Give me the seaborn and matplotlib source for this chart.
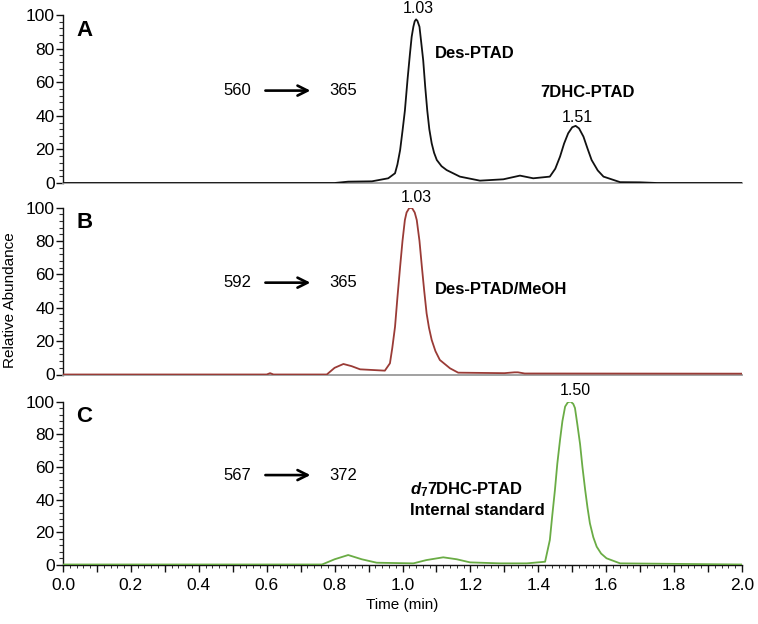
import numpy as np
import pandas as pd
import matplotlib
matplotlib.use("Agg")
import matplotlib.pyplot as plt
import matplotlib.ticker as mticker
import seaborn as sns

# ---------------- data ----------------
time_A = [0.0, 0.80, 0.84, 0.91, 0.958, 0.978, 0.985, 0.993, 1.000, 1.007, 1.015, 1.022,
          1.027, 1.032, 1.036, 1.040, 1.044, 1.050, 1.055, 1.061, 1.067, 1.073, 1.079,
          1.086, 1.093, 1.101, 1.115, 1.130, 1.169, 1.228, 1.297, 1.346, 1.385, 1.434,
          1.450, 1.464, 1.476, 1.488, 1.500, 1.510, 1.520, 1.533, 1.545, 1.557, 1.575,
          1.592, 1.641, 1.70, 1.75, 2.0]
abund_A = [0, 0, 0.8, 1.0, 2.8, 5.8, 11, 19.6, 31, 43, 62, 77,
           87, 93, 96.3, 97.4, 96.5, 93, 84, 73, 57, 43, 32,
           23.6, 18, 13.7, 10, 7.7, 3.8, 1.4, 2.2, 4.4, 2.8, 3.8,
           8.5, 15.7, 23.5, 29.6, 33.2, 34, 32.5, 27.6, 20.5, 13.7, 7.5,
           3.8, 0.5, 0.4, 0, 0]

time_B = [0.0, 0.60, 0.61, 0.62, 0.777, 0.80, 0.826, 0.85, 0.875, 0.948, 0.963, 0.970,
          0.978, 0.985, 0.993, 1.000, 1.007, 1.012, 1.020, 1.028, 1.036, 1.042, 1.050,
          1.057, 1.064, 1.071, 1.078, 1.086, 1.097, 1.110, 1.140, 1.164, 1.30, 1.33,
          1.34, 1.36, 2.0]
abund_B = [0, 0, 0.8, 0, 0, 4, 6.3, 5, 3.1, 2.3, 6.7, 16,
           28.6, 46, 64.6, 80, 92.5, 97, 99.7, 99.7, 97, 92.5, 80,
           64.6, 50, 36.6, 28, 20.7, 14, 8.7, 3.7, 1.1, 0.8, 1.3,
           1.3, 0.6, 0.5]

time_C = [0.0, 0.763, 0.80, 0.840, 0.88, 0.924, 1.032, 1.07, 1.120, 1.16, 1.199, 1.287,
          1.366, 1.420, 1.434, 1.441, 1.449, 1.456, 1.464, 1.471, 1.479, 1.487, 1.495,
          1.503, 1.508, 1.515, 1.523, 1.530, 1.538, 1.545, 1.552, 1.562, 1.572, 1.585,
          1.601, 1.641, 2.0]
abund_C = [0.3, 0.3, 3.5, 6.1, 3.5, 1.4, 1.0, 3.0, 4.7, 3.5, 1.6, 1.0,
           1.0, 2.0, 15.3, 30, 45.9, 62, 76.5, 88, 96.9, 99.5, 100,
           98.5, 96, 86, 74, 60, 46, 35, 25.5, 17, 11.2, 7,
           4.1, 1.0, 0.3]

panel_letters = ["A", "B", "C"]
transitions = [("560", "365"), ("592", "365"), ("567", "372")]
peak_labels = [[("1.03", 1.046, 104.0), ("1.51", 1.514, 38.7)],
               [("1.03", 1.040, 106.0)],
               [("1.50", 1.508, 106.5)]]
y_ticks = [0, 20, 40, 60, 80, 100]
x_ticks_labels = ["0.0", "0.2", "0.4", "0.6", "0.8", "1.0", "1.2", "1.4", "1.6", "1.8", "2.0"]
colors = ["#111111", "#9a3b36", "#6aac45"]

# ---------------- style ----------------
sns.set_style("ticks")
plt.rcParams["font.family"] = ["Liberation Sans", "DejaVu Sans"]
plt.rcParams["mathtext.fontset"] = "custom"
plt.rcParams["mathtext.it"] = "Liberation Sans:italic:bold"
plt.rcParams["mathtext.rm"] = "Liberation Sans:bold"
plt.rcParams["mathtext.bf"] = "Liberation Sans:bold"
plt.rcParams["text.color"] = "black"
plt.rcParams["axes.labelcolor"] = "black"
plt.rcParams["xtick.color"] = "black"
plt.rcParams["ytick.color"] = "black"
plt.rcParams["xtick.labelcolor"] = "black"
plt.rcParams["ytick.labelcolor"] = "black"

W, H = 758, 624
fig = plt.figure(figsize=(W / 100, H / 100), dpi=100)

def frac_rect(y0_px, y100_px):
    left = 63 / W
    width = (742 - 63) / W
    bottom = 1 - y0_px / H
    height = (y0_px - y100_px) / H
    return [left, bottom, width, height]

rects = [frac_rect(183, 15), frac_rect(374.5, 207.5), frac_rect(565, 401.5)]
series = [(time_A, abund_A), (time_B, abund_B), (time_C, abund_C)]

axes = []
for i, (rect, (t, a)) in enumerate(zip(rects, series)):
    ax = fig.add_axes(rect)
    axes.append(ax)
    df = pd.DataFrame({"Time (min)": t, "Relative Abundance": a})
    sns.lineplot(data=df, x="Time (min)", y="Relative Abundance", ax=ax,
                 color=colors[i], linewidth=1.3, zorder=3, sort=False)
    ax.set_xlim(0, 2.0)
    ax.set_ylim(0, 100)
    for s in ["top", "right"]:
        ax.spines[s].set_visible(False)
    ax.spines["left"].set_color("#111111")
    ax.spines["left"].set_linewidth(1.0)
    ax.set_yticks(y_ticks)
    ax.yaxis.set_major_formatter(mticker.FixedFormatter([str(v) for v in y_ticks]))
    ax.yaxis.set_minor_locator(mticker.MultipleLocator(4))
    ax.tick_params(axis="y", which="major", direction="out", length=5, width=1.0,
                   labelsize=12.5, pad=1, color="#111111")
    ax.tick_params(axis="y", which="minor", direction="out", length=3, width=0.8,
                   color="#333333")
    ax.set_ylabel("")
    if i < 2:
        ax.spines["bottom"].set_color("#9a9a9a")
        ax.spines["bottom"].set_linewidth(1.3)
        ax.set_xticks([])
        ax.set_xlabel("")
    else:
        ax.spines["bottom"].set_color("#111111")
        ax.spines["bottom"].set_linewidth(1.0)
        ax.xaxis.set_major_locator(mticker.MultipleLocator(0.1))
        ax.xaxis.set_minor_locator(mticker.MultipleLocator(0.02))
        ax.xaxis.set_major_formatter(mticker.FuncFormatter(
            lambda v, p: x_ticks_labels[int(round(v / 0.2))] if abs(v / 0.2 - round(v / 0.2)) < 1e-6 else ""))
        ax.tick_params(axis="x", which="major", direction="out", length=5, width=1.0,
                       labelsize=12.5, pad=4, color="#111111")
        ax.tick_params(axis="x", which="minor", direction="out", length=2.5, width=0.7,
                       color="#333333")
        ax.set_xlabel("Time (min)", fontsize=11, labelpad=4)

    # panel letter
    ax.text(0.04, 91, panel_letters[i], fontsize=16, fontweight="bold",
            ha="left", va="center")
    # MRM transition
    ty = 55
    ax.text(0.513, ty, transitions[i][0], fontsize=12, ha="center", va="center")
    ax.text(0.825, ty, transitions[i][1], fontsize=12, ha="center", va="center")
    ax.annotate("", xy=(0.737, ty), xytext=(0.588, ty),
                arrowprops=dict(arrowstyle="->", lw=1.9, color="black",
                                mutation_scale=18))
    for lab, x, y in peak_labels[i]:
        ax.text(x, y, lab, fontsize=11.5, ha="center", va="center", clip_on=False)

# compound labels
axes[0].text(1.096, 77, "Des-PTAD", fontsize=12, fontweight="bold", ha="left", va="center")
axes[0].text(1.545, 54, "7DHC-PTAD", fontsize=12, fontweight="bold", ha="center", va="center")
axes[1].text(1.096, 51, "Des-PTAD/MeOH", fontsize=12, fontweight="bold", ha="left", va="center")
axes[2].text(1.022, 46, r"$\mathit{d}_{\mathrm{7}}$7DHC-PTAD", fontsize=12,
             fontweight="bold", ha="left", va="center")
axes[2].text(1.022, 33.5, "Internal standard", fontsize=12, fontweight="bold",
             ha="left", va="center")

fig.text(10 / W, 1 - 300 / H, "Relative Abundance", rotation=90, fontsize=11,
         ha="center", va="center")

fig.savefig("out.png", dpi=100)
